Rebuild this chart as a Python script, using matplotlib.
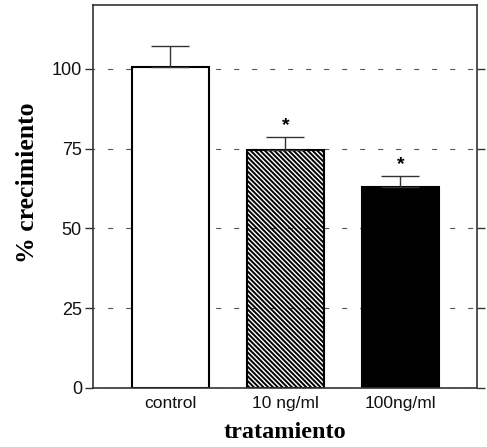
import numpy as np
import matplotlib
matplotlib.use("Agg")
import matplotlib.pyplot as plt

# datos
categorias = ["control", "10 ng/ml", "100ng/ml"]
crecimiento = [100.6, 74.7, 62.9]
error_sup = [6.4, 3.9, 3.6]
significativo = [False, True, True]

plt.rcParams["hatch.linewidth"] = 1.4

fig = plt.figure(figsize=(4.87, 4.47), dpi=100)
ax = fig.add_axes([0.191, 0.132, 0.788, 0.857])

x = np.arange(len(categorias))
colores = ["white", "none", "black"]
tramas = [None, "\\" * 7, None]

ax.yaxis.grid(True, color="#555555", linewidth=0.8, linestyle=(3, (4.5, 11.7)))
ax.set_axisbelow(True)

for i in range(len(categorias)):
    ax.bar(x[i], crecimiento[i], width=0.67, color=colores[i], hatch=tramas[i],
           edgecolor="black", linewidth=1.5, zorder=2)

ax.errorbar(x, crecimiento, yerr=[np.zeros(len(x)), error_sup], fmt="none",
            ecolor="#333333", elinewidth=1.0, capsize=13.5, capthick=1.0, zorder=3)

for i in range(len(categorias)):
    if significativo[i]:
        ax.text(x[i], crecimiento[i] + error_sup[i] + 3.5, "*", ha="center", va="center",
                fontsize=14, fontweight="bold", family="Liberation Sans")

ax.set_xlim(-0.674, 2.665)
ax.set_ylim(0, 120)
ax.set_yticks([0, 25, 50, 75, 100])
ax.set_xticks(x)
ax.set_xticklabels(categorias)

for s in ax.spines.values():
    s.set_color("#333333")
    s.set_linewidth(1.2)

ax.tick_params(axis="x", length=0, pad=6, labelsize=12.5, labelcolor="#111111")
ax.tick_params(axis="y", direction="out", length=6, width=1.0, color="#333333",
               pad=2, labelsize=13, labelcolor="#111111", right=True)
for lab in ax.get_xticklabels() + ax.get_yticklabels():
    lab.set_family("Liberation Sans")

ax.set_ylabel("% crecimiento", family="Liberation Serif", fontweight="bold",
              fontsize=18.5)
ax.yaxis.set_label_coords(-0.14, 0.535)
ax.set_xlabel("tratamiento", family="Liberation Serif", fontweight="bold",
              fontsize=17.5, labelpad=8)

fig.savefig("out.png", dpi=100)
